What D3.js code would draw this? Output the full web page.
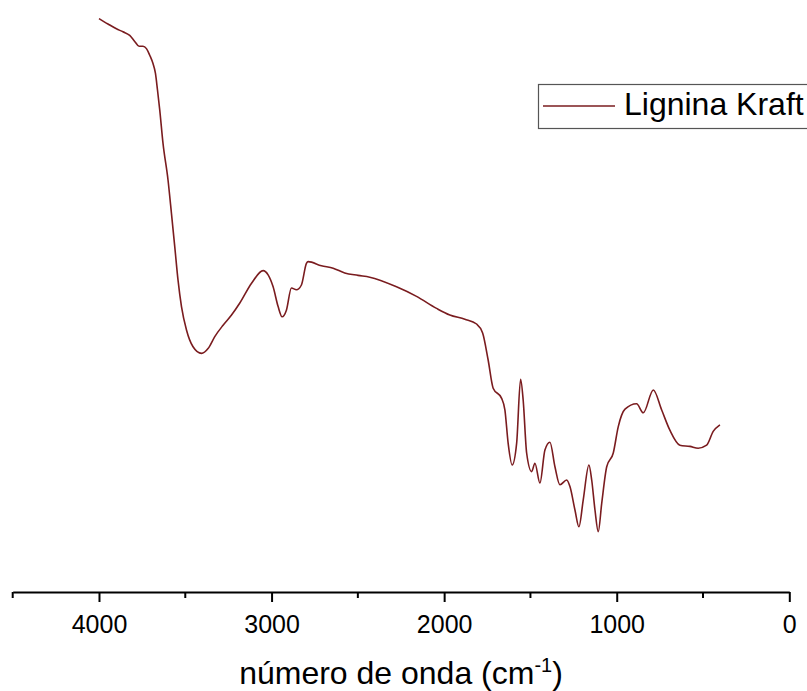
<!DOCTYPE html>
<html>
<head>
<meta charset="utf-8">
<script src="https://cdn.jsdelivr.net/npm/d3@7"></script>
<style>
  body { margin: 0; background: #fff; }
  svg { display: block; font-family: "Liberation Sans", Arial, sans-serif; }
</style>
</head>
<body>
<div id="chart"></div>
<script>
// FTIR spectrum, values
const wavenumber = [
  4000, 3948, 3899, 3861, 3822, 3793, 3768, 3745, 3725, 3706, 3687, 3673, 3661, 3648, 3629,
  3600, 3580, 3561, 3542, 3522, 3493, 3455, 3406, 3368, 3329, 3281, 3232, 3184, 3116, 3049,
  3020, 2991, 2962, 2939, 2914, 2885, 2856, 2827, 2798, 2788, 2711, 2643, 2576, 2499, 2431,
  2276, 2160, 2044, 1967, 1880, 1812, 1777, 1745, 1716, 1667, 1648, 1629, 1606, 1580, 1557,
  1542, 1522, 1493, 1474, 1445, 1416, 1387, 1358, 1329, 1290, 1271, 1242, 1219, 1194, 1161,
  1145, 1126, 1107, 1087, 1058, 1020, 991, 952, 885, 846, 788, 740, 692, 634, 576,
  528, 479, 441, 402
];
const transmittance = [
  96.9, 96.0, 95.2, 94.7, 94.1, 93.1, 92.3, 92.3, 91.9, 90.8, 89.4, 87.8, 85.0, 81.7, 76.1,
  70.0, 64.4, 58.9, 53.3, 48.9, 45.0, 42.2, 41.1, 41.9, 43.9, 45.8, 47.5, 49.5, 52.8, 54.9,
  54.2, 52.2, 48.9, 47.2, 48.3, 52.0, 51.7, 52.5, 56.1, 56.4, 55.7, 55.3, 54.5, 54.1, 53.8,
  52.2, 50.6, 48.6, 47.5, 46.8, 46.0, 44.5, 40.0, 35.3, 33.6, 31.7, 26.1, 22.5, 26.1, 36.8,
  33.3, 24.5, 21.4, 22.8, 19.5, 25.0, 26.3, 22.2, 19.2, 20.0, 18.9, 15.0, 12.2, 16.7, 22.5,
  20.0, 15.0, 11.4, 16.1, 22.2, 24.5, 28.9, 31.8, 32.7, 31.2, 35.0, 31.7, 28.3, 25.8, 25.6,
  25.3, 25.8, 28.1, 29.2
];
const majorTicks = [4000, 3000, 2000, 1000, 0];
const minorTicks = [4500, 3500, 2500, 1500, 500];
const seriesName = "Lignina Kraft";

const width = 807;
const height = 691;
const axisY = 592;
const lineColor = "#7a1c1f";

const svg = d3.select("#chart")
  .append("svg")
  .attr("width", width)
  .attr("height", height);

const x = d3.scaleLinear()
  .domain([4500, 0])
  .range([12.7, 789.3]);

const y = d3.scaleLinear()
  .domain([0, 100])
  .range([600, 0]);

// bottom axis: major ticks with labels, minor ticks without
const axis = svg.append("g")
  .attr("transform", `translate(0,${axisY})`);

axis.call(d3.axisBottom(x)
    .tickValues(majorTicks)
    .tickSize(10)
    .tickSizeOuter(0)
    .tickPadding(13)
    .tickFormat(d3.format("d")))
  .attr("font-family", null)
  .attr("font-size", "25px");

axis.select(".domain")
  .attr("stroke", "#000")
  .attr("stroke-width", 2);
axis.selectAll(".tick line")
  .attr("stroke", "#000")
  .attr("stroke-width", 2);
axis.selectAll(".tick text")
  .attr("fill", "#000");

axis.selectAll(".minor")
  .data(minorTicks)
  .enter()
  .append("line")
  .attr("class", "minor")
  .attr("x1", d => x(d))
  .attr("x2", d => x(d))
  .attr("y1", 0)
  .attr("y2", 6)
  .attr("stroke", "#000")
  .attr("stroke-width", 2);

// axis title with superscript
const title = svg.append("text")
  .attr("x", (x.range()[0] + x.range()[1]) / 2)
  .attr("y", 684)
  .attr("text-anchor", "middle")
  .attr("font-size", "32px")
  .attr("fill", "#000");
title.append("tspan").text("número de onda (cm");
title.append("tspan")
  .attr("dy", -12)
  .attr("font-size", "20px")
  .text("-1");
title.append("tspan")
  .attr("dy", 12)
  .text(")");

// spectrum line
const data = wavenumber.map((w, i) => [w, transmittance[i]]);

svg.append("path")
  .datum(data)
  .attr("fill", "none")
  .attr("stroke", lineColor)
  .attr("stroke-width", 1.6)
  .attr("stroke-linejoin", "round")
  .attr("d", d3.line()
    .x(d => x(d[0]))
    .y(d => y(d[1]))
    .curve(d3.curveMonotoneX));

// legend
const legend = svg.append("g");
legend.append("rect")
  .attr("x", 538.5)
  .attr("y", 84.5)
  .attr("width", 300)
  .attr("height", 44)
  .attr("fill", "#fff")
  .attr("stroke", "#555")
  .attr("stroke-width", 1.2);
legend.append("line")
  .attr("x1", 543)
  .attr("x2", 615)
  .attr("y1", 106)
  .attr("y2", 106)
  .attr("stroke", lineColor)
  .attr("stroke-width", 1.6);
legend.append("text")
  .attr("x", 624)
  .attr("y", 115)
  .attr("font-size", "32px")
  .attr("fill", "#000")
  .text(seriesName);
</script>
</body>
</html>
